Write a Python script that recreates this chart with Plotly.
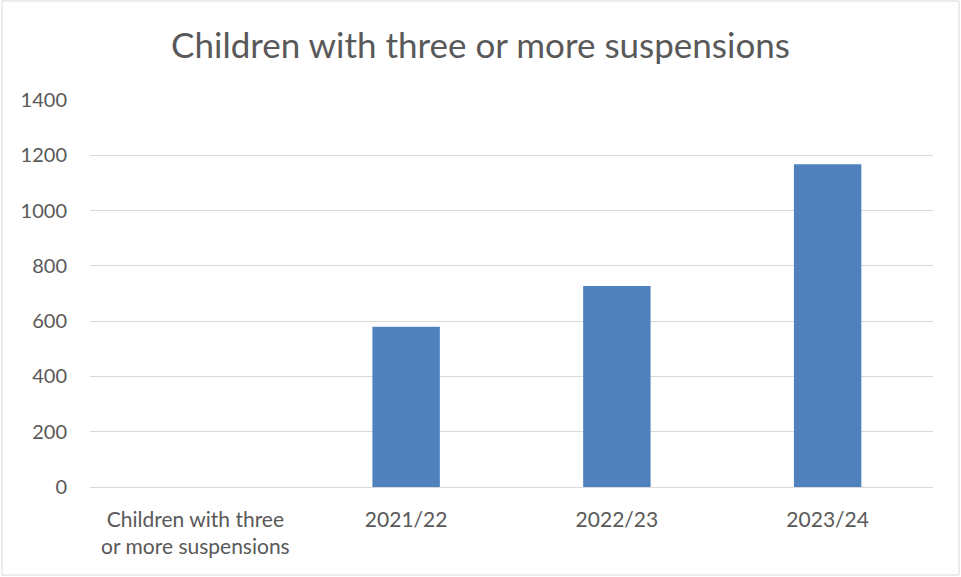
import plotly.graph_objects as go

categories = ["Children with three<br>or more suspensions", "2021/22", "2022/23", "2023/24"]
values = [None, 580, 727, 1168]
y_ticks = [0, 200, 400, 600, 800, 1000, 1200, 1400]

W, H = 961, 577
L, R, T, B = 90, 28, 100, 90
pw, ph = W - L - R, H - T - B

FONT = "Lato, Open Sans, sans-serif"

fig = go.Figure(go.Bar(x=categories, y=values, marker=dict(color="#4f81bd", line=dict(width=0)), width=0.32))

fig.update_layout(
    width=W, height=H,
    margin=dict(l=L, r=R, t=T, b=B),
    paper_bgcolor="white", plot_bgcolor="white",
    title=dict(text="Children with three or more suspensions", x=0.5, xref="container", xanchor="center",
               y=1 - 46 / H, yanchor="middle",
               font=dict(family=FONT, size=35, color="#595959")),
    font=dict(family=FONT, size=20, color="#595959"),
    showlegend=False,
    shapes=[dict(type="rect", xref="paper", yref="paper",
                 x0=(2 - L) / pw, x1=(959 - L) / pw,
                 y0=(H - B - 575) / ph, y1=(H - B - 1) / ph,
                 line=dict(color="#d9d9d9", width=1), fillcolor="rgba(0,0,0,0)", layer="below")],
)
fig.update_xaxes(showgrid=False, showline=False, ticks="", ticklabelstandoff=18,
                 tickfont=dict(size=21, color="#595959"))
fig.update_yaxes(range=[0, 1400], tickvals=y_ticks, showgrid=True, gridcolor="#d9d9d9", gridwidth=1,
                 zeroline=True, zerolinecolor="#d9d9d9", zerolinewidth=1, showline=False, ticks="",
                 ticklabelstandoff=22, tickfont=dict(size=20, color="#595959"))

fig.write_html("out.html", post_script="document.body.style.margin='0';",
               config={"displayModeBar": False})
